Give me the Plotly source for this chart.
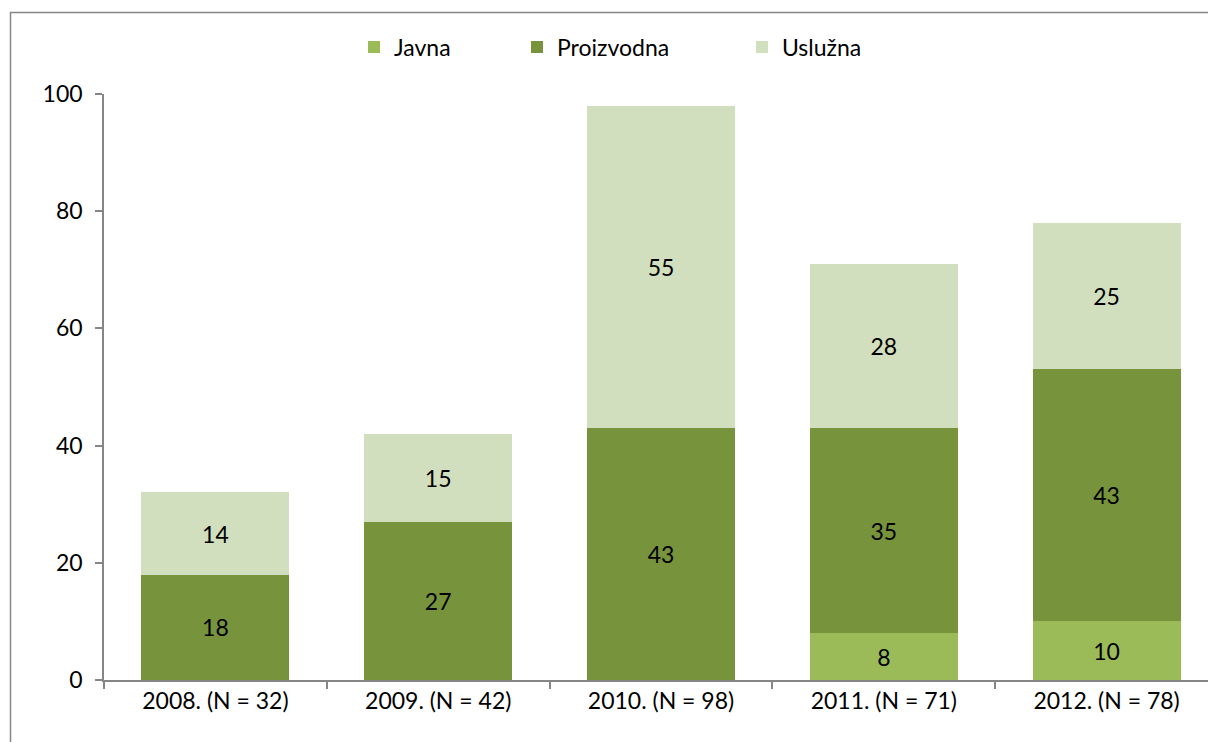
import plotly.graph_objects as go

categories = ["2008. (N = 32)", "2009. (N = 42)", "2010. (N = 98)", "2011. (N = 71)", "2012. (N = 78)"]
javna = [None, None, None, 8, 10]
proizvodna = [18, 27, 43, 35, 43]
usluzna = [14, 15, 55, 28, 25]

W, H = 1208, 742
L, R, T, B = 104, 0, 94, 742 - 680
pw = W - L - R
ph = H - T - B

font_family = "Lato, 'Open Sans', sans-serif"
FS = 23

fig = go.Figure()
series = [
    ("Javna", javna, "#9BBB59", "legend", 373),
    ("Proizvodna", proizvodna, "#77933C", "legend2", 536),
    ("Uslužna", usluzna, "#D1DFBE", "legend3", 761),
]


def px2x(px):
    return (px - L) / pw


def py2y(py):
    return (T + ph - py) / ph


legend_common = dict(orientation="h", yanchor="middle", xanchor="left",
                     font=dict(size=FS, color="black", family=font_family),
                     bgcolor="rgba(0,0,0,0)", itemclick=False, borderwidth=0)

layout_legends = {}
for name, vals, col, lg, mx in series:
    fig.add_trace(go.Bar(
        name=name, x=categories, y=vals, marker=dict(color=col, line=dict(width=0)),
        text=[str(v) if v is not None else "" for v in vals],
        textposition="inside", insidetextanchor="middle",
        textfont=dict(color="black", size=FS, family=font_family),
        legend=lg, showlegend=True, hoverinfo="skip",
    ))
    layout_legends[lg] = dict(x=px2x(mx - 19), y=py2y(47), **legend_common)

# chart-area frame: left and top edges only (right/bottom lie outside the picture)
frame_path = "M {x0} {y0} L {x0} {y1} L {x1} {y1}".format(
    x0=px2x(10.5), y0=py2y(800), y1=py2y(12.5), x1=px2x(1260))

fig.update_layout(
    width=W, height=H,
    margin=dict(l=L, r=R, t=T, b=B, pad=0),
    showlegend=True,
    barmode="stack", bargap=0.335,
    paper_bgcolor="white", plot_bgcolor="white",
    font=dict(family=font_family, size=FS, color="black"),
    xaxis=dict(
        type="category", range=[-0.5, 4.5 - 10 / 222.7],
        showline=True, linecolor="#868686", linewidth=1.5,
        ticks="outside", tickson="boundaries", ticklen=7, tickcolor="#868686", tickwidth=1.5,
        showgrid=False, tickfont=dict(size=FS, color="black", family=font_family),
    ),
    yaxis=dict(
        range=[0, 100], dtick=20, showline=True, linecolor="#868686", linewidth=1.5,
        ticks="outside", ticklen=7, tickcolor="#868686", tickwidth=1.5,
        showgrid=False, zeroline=False,
        tickfont=dict(size=FS, color="black", family=font_family),
        ticklabelstandoff=8,
    ),
    shapes=[dict(type="path", xref="paper", yref="paper", path=frame_path,
                 line=dict(color="#868686", width=1.5), layer="below")],
    **layout_legends,
)

fig.write_html(
    "out.html",
    config={"displayModeBar": False},
    post_script="document.body.style.margin='0';document.documentElement.style.overflow='hidden';document.body.style.overflow='hidden';",
)
